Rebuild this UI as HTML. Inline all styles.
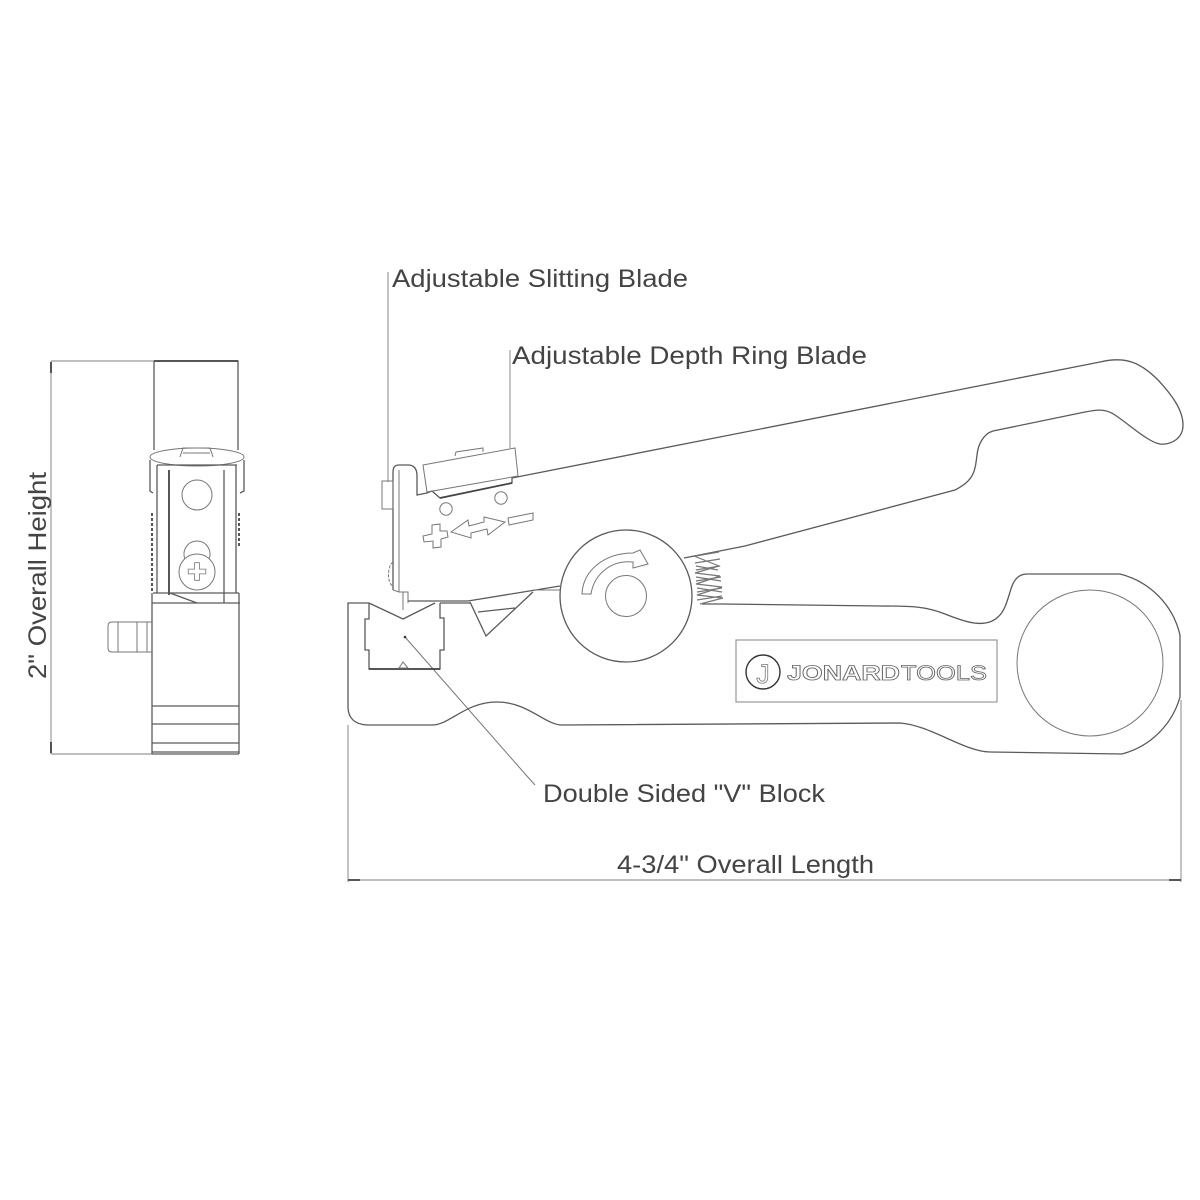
<!DOCTYPE html>
<html><head><meta charset="utf-8"><style>
html,body{margin:0;padding:0;background:#fff}
svg{display:block}
text{font-family:"Liberation Sans",sans-serif;font-size:25px;fill:#444}
.l{fill:none;stroke:#5a5a5a;stroke-width:1.3}
.t{fill:none;stroke:#777;stroke-width:1}
.d{fill:none;stroke:#aaa;stroke-width:1.4}
.k{fill:none;stroke:#444;stroke-width:1.8}
</style></head><body>
<svg width="1200" height="1200" viewBox="0 0 1200 1200" xmlns="http://www.w3.org/2000/svg">
<rect width="1200" height="1200" fill="#fff"/>
<!-- dimension lines -->
<path class="d" d="M51 361V754M51 361H153M51 754H152"/>
<path class="k" d="M51 362V373M51 753V742" stroke-width="2"/>
<path class="d" d="M348 725V882M348 880H1181M1181 700V882"/>
<path class="k" d="M348 880H360M1169 880H1181" stroke-width="2"/>
<path class="d" d="M388 272V482M510 350V448"/>
<path class="t" d="M405 637L526 775L535 785" stroke="#555"/>
<circle cx="405" cy="637" r="1.3" fill="#333"/>
<!-- labels -->
<text x="392" y="287" textLength="296" lengthAdjust="spacingAndGlyphs">Adjustable Slitting Blade</text>
<text x="512" y="364" textLength="355" lengthAdjust="spacingAndGlyphs">Adjustable Depth Ring Blade</text>
<text x="543" y="802" textLength="282" lengthAdjust="spacingAndGlyphs">Double Sided "V" Block</text>
<text x="617" y="873" textLength="257" lengthAdjust="spacingAndGlyphs">4-3/4" Overall Length</text>
<text transform="translate(46 679) rotate(-90)" textLength="207" lengthAdjust="spacingAndGlyphs">2" Overall Height</text>
<!-- side view -->
<path class="l" d="M154 450V361H238V450"/>
<path class="k" d="M154 361H238" stroke-width="1.5"/>
<ellipse class="t" cx="197" cy="457" rx="47" ry="9"/>
<path class="t" d="M180 457L183 448H210L213 457M183 453H210"/>
<path class="l" d="M150 460V491L153 493M244 460V491L240 493M157 465H237M157 465V593M236 465V593"/>
<path class="k" d="M169 470V595" stroke-width="2"/>
<path class="l" d="M224 470V603M170 593L197 603"/>
<path class="k" d="M152 513V593M239 513V548" stroke-dasharray="3 2" stroke-width="1.3"/>
<circle class="t" cx="197" cy="495" r="15"/>
<path class="t" d="M185 559A13 13 0 1 1 209 559"/>
<circle class="t" cx="197" cy="572" r="18"/>
<path class="t" d="M194 561V569H186V575H194V583H200V575H208V569H200V561Z" transform="translate(0 -.5) translate(197 572) scale(.8) translate(-197 -572)"/>
<path class="l" d="M153 593H239M152 603H240M152 593V754M239 593V754"/>
<path class="l" d="M152 706H239M152 724H239M152 743H239M152 752H239M152 754H239"/>
<path class="t" d="M152 622H112Q108 622 108 626V648Q108 652 112 652H152M118 622V652M137 622V652M147 622V652"/>
<!-- lower body -->
<path class="l" d="M470 603H440M369 603H348V708Q349 724 367 725H432C450 725 465 702 497 702C528 702 545 725 562 725L900 723C930 725 965 752 990 752L1122 754A82 82 0 0 0 1180 697V635A82 82 0 0 0 1120 574H1027C1020 574 1015 578 1012 586C1008 597 1006 610 998 617C985 629 965 622 945 614C925 606 910 606 880 606L722 604H702"/>
<!-- V block -->
<path class="l" d="M369 603L403 619L435 603M369 603V619H365V650H369V669H440V650H444V618H440V603"/>
<path class="k" d="M369 669H440" stroke="#888"/>
<path class="t" d="M403 662L399 668H408Z"/>
<!-- V notch -->
<path class="l" d="M470 602L486 636L533 592M478 612L515 608"/>
<!-- rotary wheel -->
<circle class="l" cx="626" cy="596" r="66" fill="#fff"/>
<circle class="t" cx="626" cy="596" r="20.5"/>
<path class="t" d="M582 594C583 570 605 553 633 553L640 550L648 564L633 568V562C610 560 594 575 591 594Z"/>
<!-- upper jaw and handle -->
<path class="l" d="M393 590V472Q393 465 399 465H408Q417 465 417 476V495L427 493L432 491L440 498L512 483V478L517 477L1100 362C1125 356 1140 362 1158 380C1172 395 1183 410 1183 425C1183 438 1172 445 1160 444C1148 442 1130 425 1115 415C1105 408 1095 410 1085 412L993 431C983 434 978 445 977 455C975 470 975 480 955 490L745 546L684 558"/>
<path class="t" d="M399 470V592M393 590L399 592H408V603M403 592V610"/>
<path class="l" d="M408 601H468L560 586"/>
<path class="t" d="M533 590H560"/>
<!-- blade & tab -->
<path class="t" d="M423 465L515 448L518 476L427 492Z"/>
<path class="k" d="M440 498L512 483" stroke-width="1.4"/>
<path class="t" d="M455 456L456 452L483 448V452"/>
<path class="t" d="M382 481H393V509H382Z"/>
<path class="t" d="M393 562C387 566 387 584 393 586" stroke-dasharray="3 1.5"/>
<circle class="t" cx="446" cy="509" r="6.2"/>
<circle class="t" cx="501" cy="498" r="6.2"/>
<path class="t" d="M432 525L440 524V531L447 531L448 537L441 539V547L433 548V541L424 542L423 536L432 534Z"/>
<path class="t" d="M451 532L468 520L469 526L484 522L484 517L505 522L488 535L487 529L471 533L471 538Z"/>
<path class="t" d="M508 518L533 513L533 520L509 525Z"/>
<!-- spring -->
<path d="M696 556L719 552M695 563L720 559M694 556L719 566L695 573L720 576L696 584L722 587L697 595L723 598L700 604M696 566L718 570M696 577L721 581M697 588L722 592M696 570L720 566M696 581L721 577M697 592L722 588M697 600L722 596" fill="none" stroke="#777" stroke-width="1.2"/>
<!-- hole -->
<circle class="t" cx="1090" cy="663" r="73"/>
<!-- logo -->
<rect x="736" y="640" width="261" height="62" fill="none" stroke="#999" stroke-width="1.2"/>
<circle cx="763" cy="672" r="17" fill="none" stroke="#333" stroke-width="1.4"/>
<text x="763" y="683" text-anchor="middle" style="font-size:27px;fill:#fff;stroke:#777;stroke-width:.8">J</text>
<text x="787" y="680" textLength="113" lengthAdjust="spacingAndGlyphs" style="font-size:21px;font-weight:bold;fill:#fff;stroke:#666;stroke-width:.8">JONARD</text>
<text x="901" y="680" textLength="86" lengthAdjust="spacingAndGlyphs" style="font-size:21px;fill:#fff;stroke:#666;stroke-width:.8">TOOLS</text>
</svg>
</body></html>
